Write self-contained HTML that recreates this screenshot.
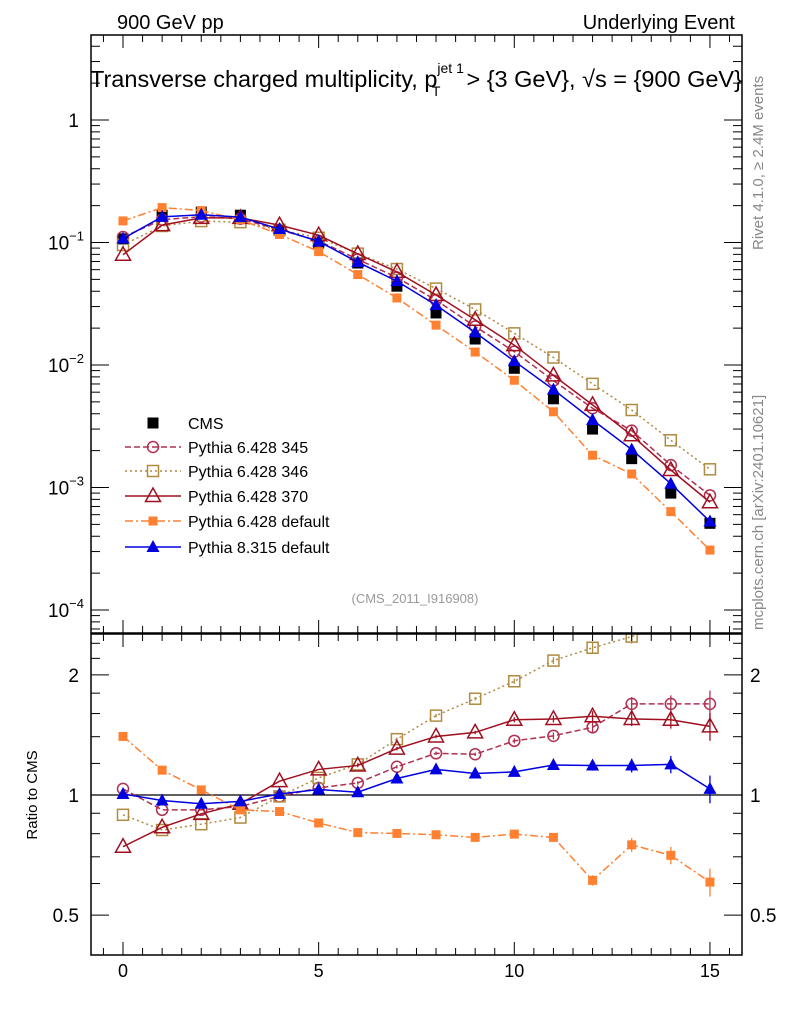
<!DOCTYPE html>
<html><head><meta charset="utf-8">
<style>
body{margin:0;background:#fff;}
svg{display:block;font-family:"Liberation Sans",sans-serif;}
</style></head>
<body>
<svg id="chartSvg" width="786" height="1024" viewBox="0 0 786 1024">
<text x="117" y="29" font-size="20">900 GeV pp</text>
<text x="735" y="29" font-size="20" text-anchor="end">Underlying Event</text>
<text x="90" y="87" font-size="23.5">Transverse charged multiplicity, p<tspan font-size="14" dy="-14" dx="0">jet 1</tspan><tspan font-size="14" dx="-32" dy="23">T</tspan><tspan dy="-9" dx="26">&gt; {3 GeV}, √s = {900 GeV}</tspan></text>
<text transform="translate(763,250) rotate(-90)" font-size="15" fill="#888">Rivet 4.1.0, ≥ 2.4M events</text>
<text transform="translate(763,630) rotate(-90)" font-size="15" fill="#888">mcplots.cern.ch [arXiv:2401.10621]</text>
<text x="415" y="603" font-size="13" fill="#999" text-anchor="middle">(CMS_2011_I916908)</text>
<text transform="translate(37,795) rotate(-90)" font-size="15" text-anchor="middle">Ratio to CMS</text>
<defs>
<clipPath id="ctop"><rect x="91" y="35" width="651" height="598"/></clipPath>
<clipPath id="crat"><rect x="91" y="634" width="651" height="321"/></clipPath>
</defs>
<g id="gTop" clip-path="url(#ctop)"></g>
<g id="gRat" clip-path="url(#crat)"></g>
<g id="gAxes"></g>
<g id="gLeg"></g>
</svg>
<script>
var xs=[0,1,2,3,4,5,6,7,8,9,10,11,12,13,14,15];
var cms=[0.107,0.167,0.177,0.167,0.128,0.099,0.068,0.044,0.0266,0.0163,0.0094,0.0053,0.0030,0.00172,0.00090,0.00051];
var r345=[1.036,0.918,0.918,0.936,0.992,1.042,1.072,1.177,1.272,1.265,1.367,1.407,1.478,1.692,1.692,1.692];
var r346=[0.892,0.817,0.845,0.878,0.992,1.104,1.193,1.380,1.581,1.743,1.928,2.172,2.339,2.495,2.70,2.76];
var r370=[0.742,0.830,0.897,0.951,1.083,1.159,1.186,1.307,1.402,1.435,1.544,1.551,1.575,1.551,1.544,1.486];
var rdef6=[1.402,1.154,1.030,0.918,0.909,0.851,0.805,0.801,0.795,0.783,0.798,0.783,0.611,0.750,0.706,0.605];
var rdef8=[1.006,0.969,0.951,0.964,1.006,1.032,1.016,1.100,1.159,1.132,1.143,1.189,1.186,1.186,1.193,1.036];
var errFrac=[0.005,0.005,0.005,0.005,0.005,0.005,0.01,0.01,0.01,0.01,0.015,0.02,0.03,0.04,0.05,0.08];
var xTicks=[0,5,10,15];
(function(){
var NS="http://www.w3.org/2000/svg";
function X(v){return 123+v*39.13;}
function YT(v){return 120-122.5*Math.log10(v);}
function YR(v){return 795-399*Math.log10(v);}
function mk(tag,attrs,parent){var e=document.createElementNS(NS,tag);for(var k in attrs){e.setAttribute(k,String(attrs[k]));}parent.appendChild(e);return e;}
var gT=document.getElementById('gTop'),gR=document.getElementById('gRat'),gA=document.getElementById('gAxes'),gL=document.getElementById('gLeg');
var series=[
 {label:'Pythia 6.428 345',r:r345,c:'#b03050',dash:'6,3',m:'circle'},
 {label:'Pythia 6.428 346',r:r346,c:'#b08a40',dash:'2,3',m:'osq'},
 {label:'Pythia 6.428 370',r:r370,c:'#a01020',dash:'none',m:'otri'},
 {label:'Pythia 6.428 default',r:rdef6,c:'#ff8030',dash:'8,3,2,3',m:'sq'},
 {label:'Pythia 8.315 default',r:rdef8,c:'#0000e0',dash:'none',m:'tri'}];
function marker(g,m,x,y,c){
 if(m==='circle')return mk('circle',{cx:x,cy:y,r:5.5,fill:'none',stroke:c,'stroke-width':1.5},g);
 if(m==='osq')return mk('rect',{x:x-5.5,y:y-5.5,width:11,height:11,fill:'none',stroke:c,'stroke-width':1.5},g);
 if(m==='sq')return mk('rect',{x:x-4.5,y:y-4.5,width:9,height:9,fill:c},g);
 if(m==='bsq')return mk('rect',{x:x-5.5,y:y-5.5,width:11,height:11,fill:c},g);
 if(m==='otri')return mk('polygon',{points:x+','+(y-8)+' '+(x-7.5)+','+(y+5.5)+' '+(x+7.5)+','+(y+5.5),fill:'none',stroke:c,'stroke-width':1.5},g);
 return mk('polygon',{points:x+','+(y-7)+' '+(x-6.5)+','+(y+5)+' '+(x+6.5)+','+(y+5),fill:c},g);
}
[[91,35,651,598],[91,634,651,321]].forEach(function(f){var r=mk('rect',{x:f[0],y:f[1],width:f[2],height:f[3],fill:'none',stroke:'#000','stroke-width':1.5},gA);

});
for(var v=-0.5;v<=15.5;v+=0.5){var x=X(v);if(x<92||x>741)continue;var big=(Math.abs(v%5)<1e-6);var len=big?13:7;
 [[35,1],[633,-1],[634,1],[955,-1]].forEach(function(p){mk('line',{x1:x,x2:x,y1:p[0],y2:p[0]+p[1]*len,stroke:'#000','stroke-width':1},gA);});}
xTicks.forEach(function(v){var t=mk('text',{x:X(v),y:977,'font-size':18,'text-anchor':'middle'},gA);t.textContent=String(v);

});
for(var e=-5;e<=0;e++){for(var k=1;k<10;k++){var val=k*Math.pow(10,e);var y=YT(val);if(y<36||y>632)continue;var ln=k===1?18:9;
 mk('line',{x1:91,x2:91+ln,y1:y,y2:y,stroke:'#000'},gA);mk('line',{x1:742,x2:742-ln,y1:y,y2:y,stroke:'#000'},gA);}}
[[1,'1',''],[0.1,'10','−1'],[0.01,'10','−2'],[0.001,'10','−3'],[0.0001,'10','−4']].forEach(function(l){
 var t=mk('text',{x:l[2]?84:79,y:YT(l[0])+7,'font-size':19,'text-anchor':'end'},gA);t.textContent=l[1];
 if(l[2]){var s=mk('tspan',{'font-size':13,dy:-9},t);s.textContent=l[2];}
 
 });
[0.5,0.6,0.7,0.8,0.9,1,1.2,1.4,1.6,1.8,2,2.2,2.4].forEach(function(v){var y=YR(v);if(y<635||y>954)return;var big=(v===0.5||v===1||v===2);var ln=big?18:9;
 mk('line',{x1:91,x2:91+ln,y1:y,y2:y,stroke:'#000'},gA);mk('line',{x1:742,x2:742-ln,y1:y,y2:y,stroke:'#000'},gA);});
[[2,'2'],[1,'1'],[0.5,'0.5']].forEach(function(l){[[79,'end'],[750,'start']].forEach(function(p){var t=mk('text',{x:p[0],y:YR(l[0])+7,'font-size':19,'text-anchor':p[1]},gA);t.textContent=l[1];
 
 });});
cms.forEach(function(v,i){var m=marker(gT,'bsq',X(xs[i]),YT(v),'#000');

});
var l1=mk('line',{x1:91,x2:742,y1:YR(1),y2:YR(1),stroke:'#000','stroke-width':1.2},gR);


series.forEach(function(s){
 var key=s.label.toLowerCase().replace(/[^a-z0-9]+/g,'-');
 var vals=s.r.map(function(r,i){return r*cms[i];});
 var pt=mk('polyline',{points:vals.map(function(v,i){return X(xs[i])+','+YT(v);}).join(' '),fill:'none',stroke:s.c,'stroke-width':1.5,'stroke-dasharray':s.dash},gT);
 
 
 var pr=mk('polyline',{points:s.r.map(function(v,i){return X(xs[i])+','+YR(v);}).join(' '),fill:'none',stroke:s.c,'stroke-width':1.5,'stroke-dasharray':s.dash},gR);
 
 
 s.r.forEach(function(r,i){
  var er=r*errFrac[i];
  if(YR(r-er)-YR(r+er)>3){var eb=mk('line',{x1:X(xs[i]),x2:X(xs[i]),y1:YR(r-er),y2:YR(r+er),stroke:s.c,'stroke-width':1.3},gR);
   
   }
  var m1=marker(gT,s.m,X(xs[i]),YT(vals[i]),s.c);
  
  
  var m2=marker(gR,s.m,X(xs[i]),YR(r),s.c);
  
  
 });
});
var legY=[423,447,471,496,521,547];
marker(gL,'bsq',153,legY[0],'#000');
var lt=mk('text',{x:188,y:legY[0]+6,'font-size':16},gL);lt.textContent='CMS';


series.forEach(function(s,i){var y=legY[i+1];
 mk('line',{x1:125,x2:181,y1:y,y2:y,stroke:s.c,'stroke-width':1.5,'stroke-dasharray':s.dash},gL);
 marker(gL,s.m,153,y,s.c);
 var t=mk('text',{x:188,y:y+6,'font-size':16},gL);t.textContent=s.label;
 
 });
})();
</script>
</body></html>
